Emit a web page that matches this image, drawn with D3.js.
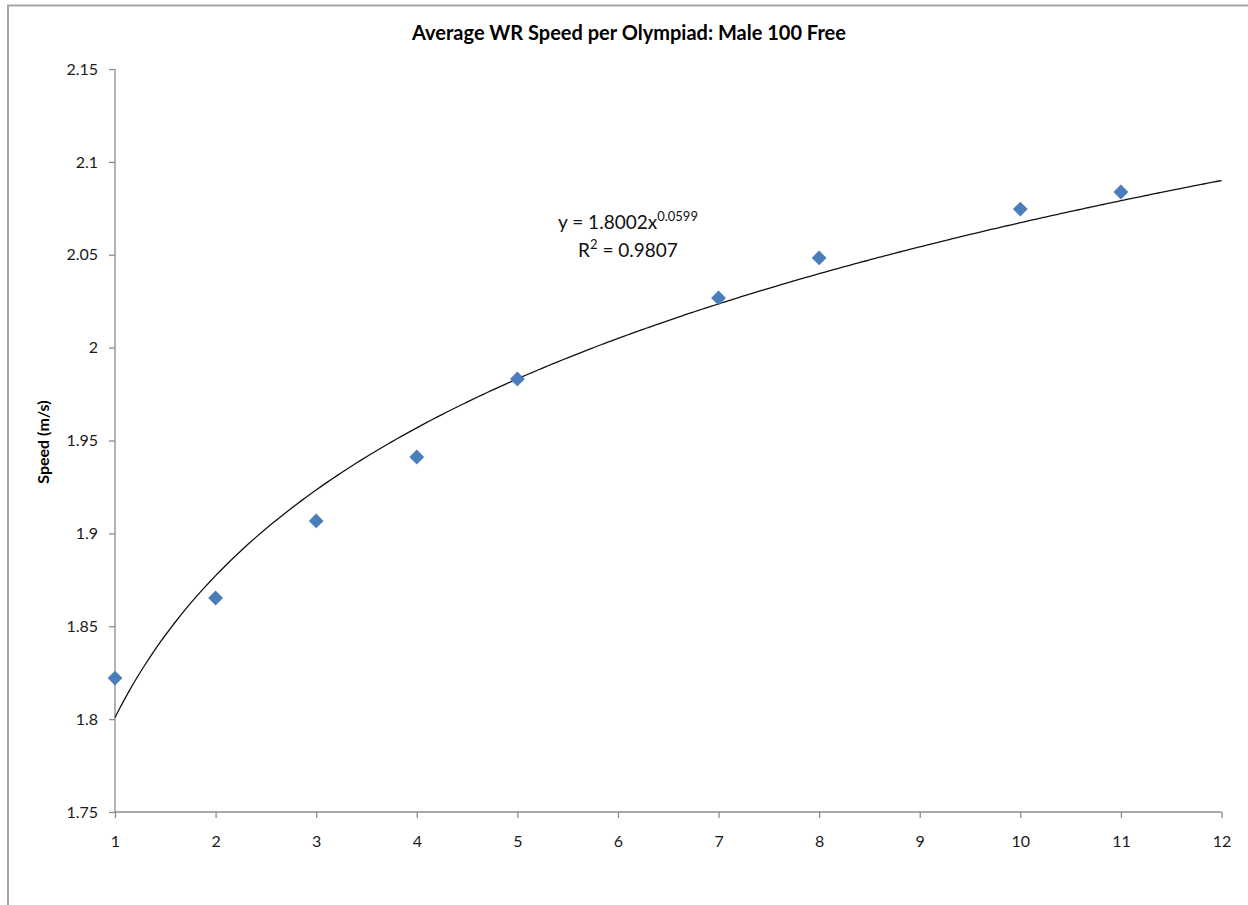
<!DOCTYPE html>
<html><head><meta charset="utf-8">
<script src="https://cdn.jsdelivr.net/npm/d3@7"></script>
<style>body{margin:0;background:#fff}svg{display:block}text{font-family:Lato,"Open Sans",sans-serif}</style>
</head><body><svg id="c" width="1248" height="905"></svg>
<script>
const olympiads = [1, 2, 3, 4, 5, 7, 8, 10, 11];
const speeds = [1.8221, 1.8652, 1.9067, 1.9411, 1.9831, 2.0267, 2.0483, 2.0746, 2.0838];
const xTicks = [1,2,3,4,5,6,7,8,9,10,11,12];
const yTicks = [1.75,1.8,1.85,1.9,1.95,2,2.05,2.1,2.15];
const titleText = "Average WR Speed per Olympiad: Male 100 Free";
const yTitle = "Speed (m/s)";

const svg = d3.select("#c");
svg.append("rect").attr("x",8).attr("y",5.5).attr("width",1260).attr("height",920)
  .attr("fill","#fff").attr("stroke","#a6a6a6").attr("stroke-width",2);

const x = d3.scaleLinear().domain([1,12]).range([115,1221.5]);
const y = d3.scaleLinear().domain([1.75,2.15]).range([812,69]);

const g = svg.append("g");
const ya = g.append("g").attr("transform","translate(115,0)")
  .call(d3.axisLeft(y).tickValues(yTicks).tickSize(6).tickPadding(11).tickFormat(d=>String(+d.toFixed(2))));
const xa = g.append("g").attr("transform","translate(0,812)")
  .call(d3.axisBottom(x).tickValues(xTicks).tickSize(6).tickPadding(18).tickFormat(d3.format("d")));
[ya,xa].forEach(a=>{
  a.attr("font-size",null).attr("font-family",null);
  a.selectAll("path,line").attr("stroke","#8c8c8c").attr("stroke-width",1.3);
  a.selectAll("text").style("font-size","16px").attr("fill","#1a1a1a");
});
ya.select(".domain").attr("d","M0,812V69");
xa.select(".domain").attr("d","M115,0H1221.5");

// power trendline fitted to data (least squares on logs)
const lx = olympiads.map(Math.log), ly = speeds.map(Math.log);
const mx = d3.mean(lx), my = d3.mean(ly);
const b = d3.sum(lx.map((v,i)=>(v-mx)*(ly[i]-my)))/d3.sum(lx.map(v=>(v-mx)**2));
const a = Math.exp(my - b*mx);
const trend = d3.range(1, 12.001, 0.05).map(t=>[t, a*Math.pow(t,b)]);
g.append("path").datum(trend).attr("fill","none").attr("stroke","#111").attr("stroke-width",1.3)
  .attr("d", d3.line().x(d=>x(d[0])).y(d=>y(d[1])).curve(d3.curveMonotoneX));

g.selectAll(".pt").data(olympiads).join("path")
  .attr("transform",(d,i)=>`translate(${x(d)},${y(speeds[i])}) rotate(45)`)
  .attr("d", d3.symbol(d3.symbolSquare, 110)())
  .attr("fill","#4a7ebb");

svg.append("text").attr("x",629).attr("y",40).attr("text-anchor","middle")
  .attr("font-size",20).attr("font-weight","bold").attr("fill","#000").text(titleText);
svg.append("text").attr("transform","translate(49,442) rotate(-90)").attr("text-anchor","middle")
  .attr("font-size",16).attr("font-weight","bold").attr("fill","#000").text(yTitle);

const eq = svg.append("text").attr("x",628).attr("y",229).attr("text-anchor","middle").attr("font-size",19).attr("fill","#111");
eq.append("tspan").text("y = 1.8002x");
eq.append("tspan").attr("dy",-8).attr("font-size",13).text("0.0599");
const r2 = svg.append("text").attr("x",628).attr("y",257).attr("text-anchor","middle").attr("font-size",19).attr("fill","#111");
r2.append("tspan").text("R");
r2.append("tspan").attr("dy",-8).attr("font-size",13).text("2");
r2.append("tspan").attr("dy",8).text(" = 0.9807");
</script></body></html>
